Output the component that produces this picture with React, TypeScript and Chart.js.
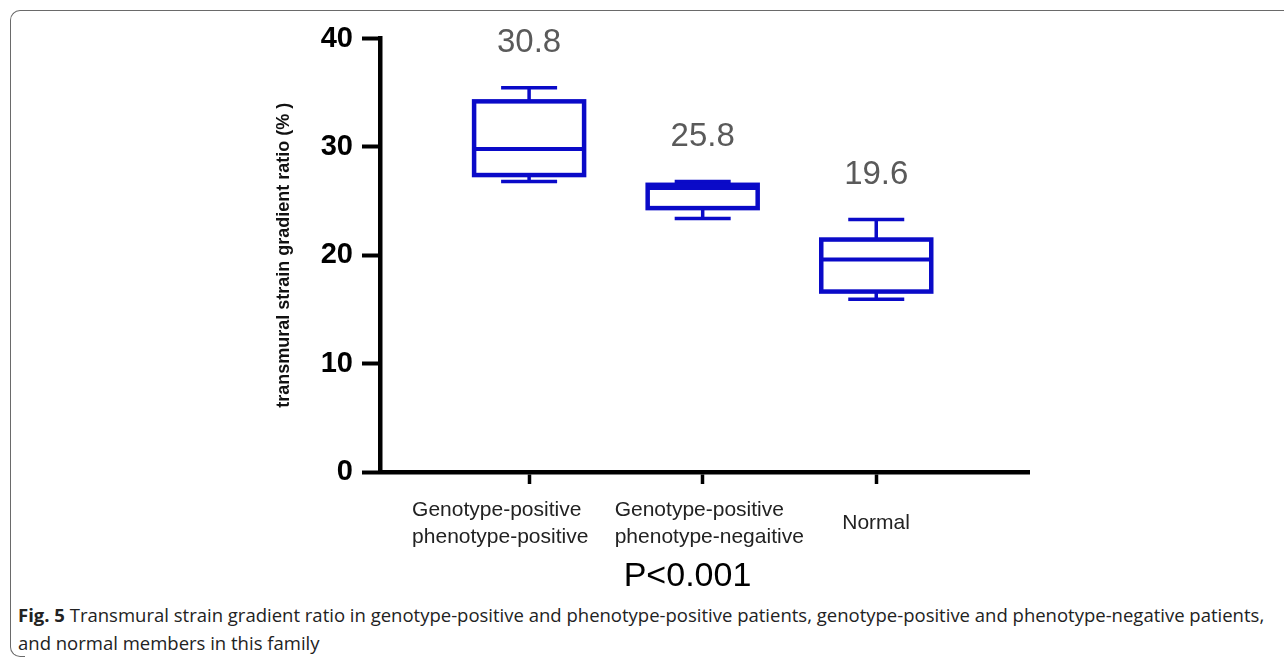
import React, { useEffect, useRef } from "react";
import { Chart, registerables } from "chart.js";

Chart.register(...registerables);

// ---- data ----
const categories: string[][] = [
  ["Genotype-positive", "phenotype-positive"],
  ["Genotype-positive", "phenotype-negaitive"],
  ["Normal"],
];
const groupPositions = [1, 2, 3];
const whiskerMax = [35.45, 26.8, 23.3];
const q3 = [34.2, 26.5, 21.45];
const median = [29.8, 26.2, 19.6];
const q1 = [27.4, 24.35, 16.65];
const whiskerMin = [26.8, 23.4, 15.95];
const meanLabels = ["30.8", "25.8", "19.6"];
const yTicks = [0, 10, 20, 30, 40];
const yTitle = "transmural strain gradient ratio (% )";
const xTitle = "P<0.001";

const BLUE = "#0a0ac8";
const FONT = "'Liberation Sans', Arial, sans-serif";

// layout nudges for the hand-placed category labels (left edge relative to tick, px)
const LABEL_LEFT_NUDGE = [-117, -88, -34];

const boxPlugin = {
  id: "boxplots",
  afterDatasetsDraw(chart: any) {
    const { ctx } = chart;
    const x = chart.scales.x;
    const y = chart.scales.y;
    const halfBox = 55;
    const halfCap = 28;
    ctx.save();
    ctx.strokeStyle = BLUE;
    ctx.lineCap = "butt";
    groupPositions.forEach((g, i) => {
      const cx = x.getPixelForValue(g);
      const pMax = y.getPixelForValue(whiskerMax[i]);
      const pQ3 = y.getPixelForValue(q3[i]);
      const pMed = y.getPixelForValue(median[i]);
      const pQ1 = y.getPixelForValue(q1[i]);
      const pMin = y.getPixelForValue(whiskerMin[i]);
      // whiskers
      ctx.lineWidth = 3.5;
      ctx.beginPath();
      ctx.moveTo(cx, pQ3);
      ctx.lineTo(cx, pMax);
      ctx.moveTo(cx, pQ1);
      ctx.lineTo(cx, pMin);
      ctx.moveTo(cx - halfCap, pMax);
      ctx.lineTo(cx + halfCap, pMax);
      ctx.moveTo(cx - halfCap, pMin);
      ctx.lineTo(cx + halfCap, pMin);
      ctx.stroke();
      // box
      ctx.lineWidth = 4.5;
      ctx.strokeRect(cx - halfBox, pQ3, halfBox * 2, pQ1 - pQ3);
      ctx.lineWidth = 4;
      ctx.beginPath();
      ctx.moveTo(cx - halfBox, pMed);
      ctx.lineTo(cx + halfBox, pMed);
      ctx.stroke();
      // mean label
      ctx.fillStyle = "#5a5a5a";
      ctx.font = `33px ${FONT}`;
      ctx.textAlign = "center";
      ctx.textBaseline = "middle";
      ctx.fillText(meanLabels[i], cx, pMax - 45);
    });

    // category labels (left-aligned blocks under the ticks)
    ctx.fillStyle = "#222";
    ctx.font = `21px ${FONT}`;
    ctx.textAlign = "left";
    ctx.textBaseline = "middle";
    const lh = 27;
    const firstLine = x.top + 38;
    groupPositions.forEach((g, i) => {
      const left = x.getPixelForValue(g) + LABEL_LEFT_NUDGE[i];
      const lines = categories[i];
      const start = firstLine + ((2 - lines.length) * lh) / 2;
      lines.forEach((t, k) => ctx.fillText(t, left, start + k * lh));
    });

    // significance note
    ctx.fillStyle = "#000";
    ctx.font = `34px ${FONT}`;
    ctx.textAlign = "center";
    ctx.fillText(xTitle, (x.left + x.right) / 2 - 17, x.top + 105);
    ctx.restore();
  },
};

export default function App() {
  const ref = useRef<HTMLCanvasElement | null>(null);

  useEffect(() => {
    if (!ref.current) return;
    const chart = new Chart(ref.current, {
      type: "scatter",
      data: {
        datasets: [
          {
            label: "median",
            data: groupPositions.map((g, i) => ({ x: g, y: median[i] })),
            pointRadius: 0,
            pointHoverRadius: 0,
            showLine: false,
          },
        ],
      },
      options: {
        responsive: false,
        animation: false,
        events: [],
        layout: { padding: { left: 270, right: 255, top: 38.5, bottom: 0 } },
        plugins: {
          legend: { display: false },
          tooltip: { enabled: false },
        },
        scales: {
          x: {
            type: "linear",
            min: 0.141,
            max: 3.88,
            afterFit: (s: any) => {
              s.height = 128;
            },
            afterBuildTicks: (s: any) => {
              s.ticks = groupPositions.map((v) => ({ value: v }));
            },
            ticks: {
              display: false,
            },
            grid: {
              display: true,
              drawOnChartArea: false,
              drawTicks: true,
              tickLength: 12,
              tickWidth: 3.5,
              tickColor: "#000",
            },
            border: { display: true, width: 4.5, color: "#000" },
          },
          y: {
            type: "linear",
            min: 0,
            max: 40,
            afterFit: (s: any) => {
              s.width = 110;
            },
            afterBuildTicks: (s: any) => {
              s.ticks = yTicks.map((v) => ({ value: v }));
            },
            ticks: {
              color: "#000",
              font: { family: FONT, size: 29, weight: "bold" },
              padding: 9,
            },
            grid: {
              display: true,
              drawOnChartArea: false,
              drawTicks: true,
              tickLength: 18,
              tickWidth: 4,
              tickColor: "#000",
            },
            border: { display: true, width: 4.5, color: "#000" },
            title: {
              display: true,
              text: yTitle,
              color: "#111",
              font: { family: FONT, size: 18, weight: "bold", lineHeight: 1.2 },
              padding: { top: 3, bottom: 0 },
            },
          },
        },
      },
      plugins: [boxPlugin],
    } as any);
    return () => chart.destroy();
  }, []);

  return (
    <div
      style={{
        position: "absolute",
        left: 0,
        top: 0,
        width: 1284,
        height: 662,
        overflow: "hidden",
        background: "#fff",
      }}
    >
      <div
        style={{
          position: "absolute",
          left: 10,
          top: 10,
          width: 1300,
          height: 630,
          borderLeft: "1.5px solid #6a6a6a",
          borderTop: "1.5px solid #6a6a6a",
          borderTopLeftRadius: 10,
        }}
      />
      <div
        style={{
          position: "absolute",
          left: 10,
          top: 630,
          width: 14,
          height: 26,
          borderLeft: "1.5px solid #6a6a6a",
          borderBottom: "1.5px solid #6a6a6a",
          borderBottomLeftRadius: 10,
        }}
      />
      <canvas
        ref={ref}
        width={1284}
        height={600}
        style={{ position: "absolute", left: 0, top: 0, width: 1284, height: 600 }}
      />
      <div
        style={{
          position: "absolute",
          left: 18,
          top: 601,
          width: 1264,
          fontFamily: "'Open Sans', sans-serif",
          fontSize: 18.5,
          lineHeight: "28px",
          color: "#222",
          whiteSpace: "nowrap",
        }}
      >
        <span style={{ fontWeight: "bold" }}>Fig. 5</span>
        {"  "}Transmural strain gradient ratio in genotype-positive and phenotype-positive patients, genotype-positive and phenotype-negative patients,
        <br />
        and normal members in this family
      </div>
    </div>
  );
}
